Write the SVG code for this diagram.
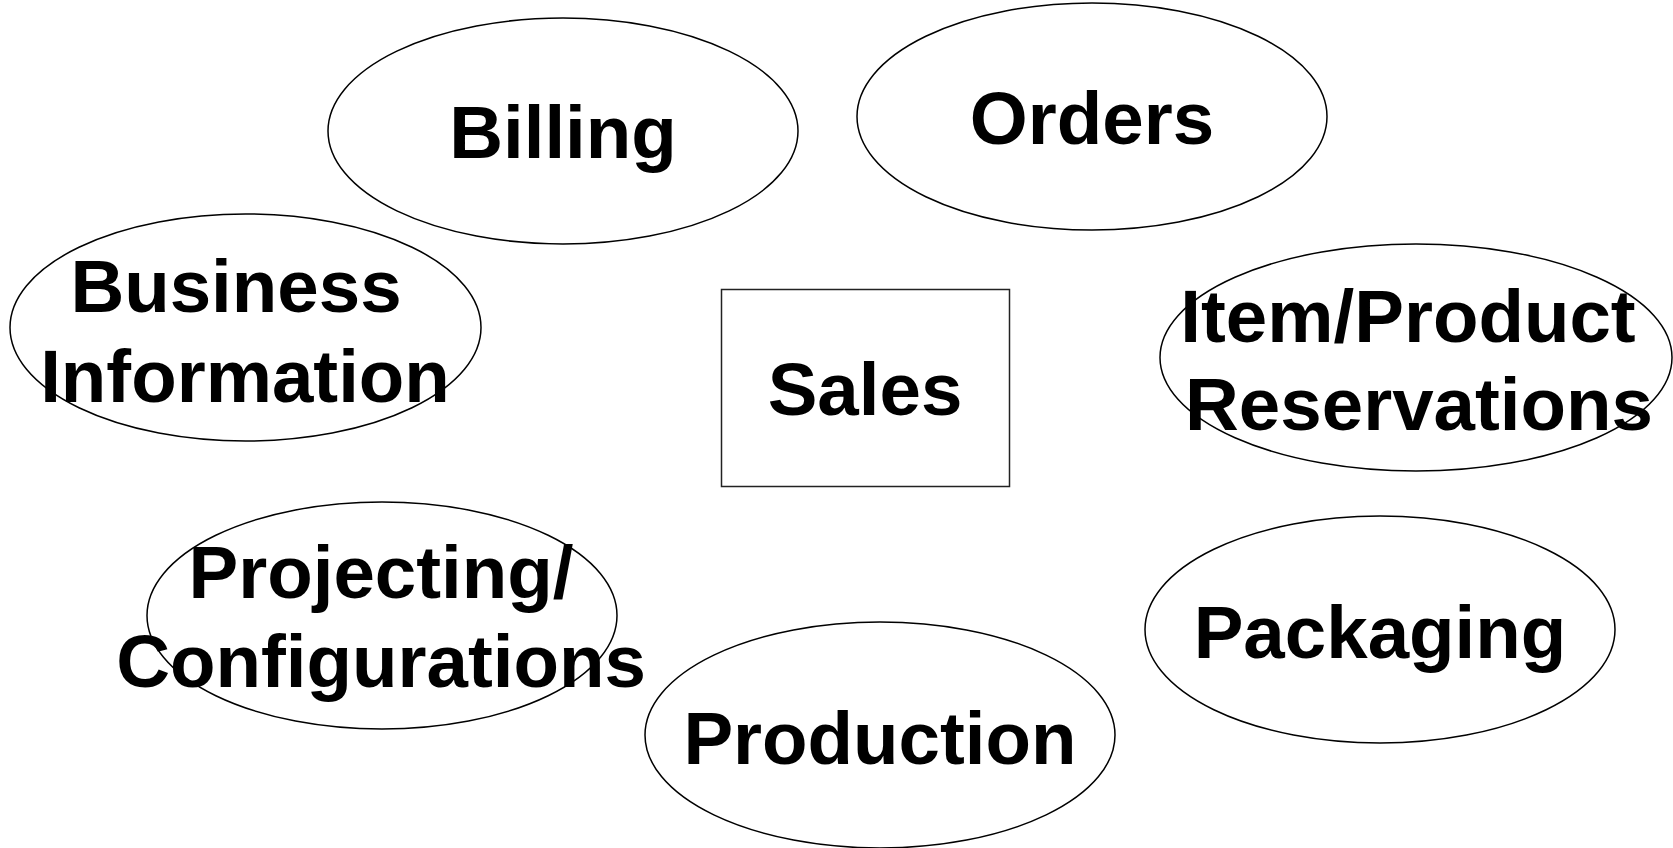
<svg xmlns="http://www.w3.org/2000/svg" width="1673" height="848" viewBox="0 0 1673 848">
<style>
  .shape { fill: #ffffff; stroke: #000000; stroke-width: 1.5; }
  .box { fill: #ffffff; stroke: #222222; stroke-width: 1.5; }
  .label { font-family: "Liberation Sans", Arial, sans-serif; font-weight: bold; font-size: 74.5px; fill: #000000; text-anchor: middle; }
</style>
<rect x="0" y="0" width="1673" height="848" fill="#ffffff"/>
<g id="connectors"></g>
<g id="node-billing">
  <ellipse class="shape" cx="563" cy="131" rx="235" ry="113"/>
  <text class="label" x="563" y="158">Billing</text>
</g>
<g id="node-orders">
  <ellipse class="shape" cx="1092" cy="116.5" rx="235" ry="113.5"/>
  <text class="label" x="1092" y="144">Orders</text>
</g>
<g id="node-business-information">
  <ellipse class="shape" cx="245.5" cy="327.5" rx="235.5" ry="113.5"/>
  <text class="label" x="236" y="312">Business</text>
  <text class="label" x="245" y="402">Information</text>
</g>
<g id="node-item-product-reservations">
  <ellipse class="shape" cx="1416" cy="357.5" rx="256" ry="113.5"/>
  <text class="label" x="1408" y="342">Item/Product</text>
  <text class="label" x="1419" y="430">Reservations</text>
</g>
<g id="node-sales">
  <rect class="box" x="721.5" y="289.5" width="288" height="197"/>
  <text class="label" x="865" y="415">Sales</text>
</g>
<g id="node-projecting-configurations">
  <ellipse class="shape" cx="382" cy="615.5" rx="235" ry="113.5"/>
  <text class="label" x="381" y="598">Projecting/</text>
  <text class="label" x="381" y="687">Configurations</text>
</g>
<g id="node-packaging">
  <ellipse class="shape" cx="1380" cy="629.5" rx="235" ry="113.5"/>
  <text class="label" x="1380" y="658">Packaging</text>
</g>
<g id="node-production">
  <ellipse class="shape" cx="880" cy="735" rx="235" ry="113"/>
  <text class="label" x="880" y="764">Production</text>
</g>
</svg>
